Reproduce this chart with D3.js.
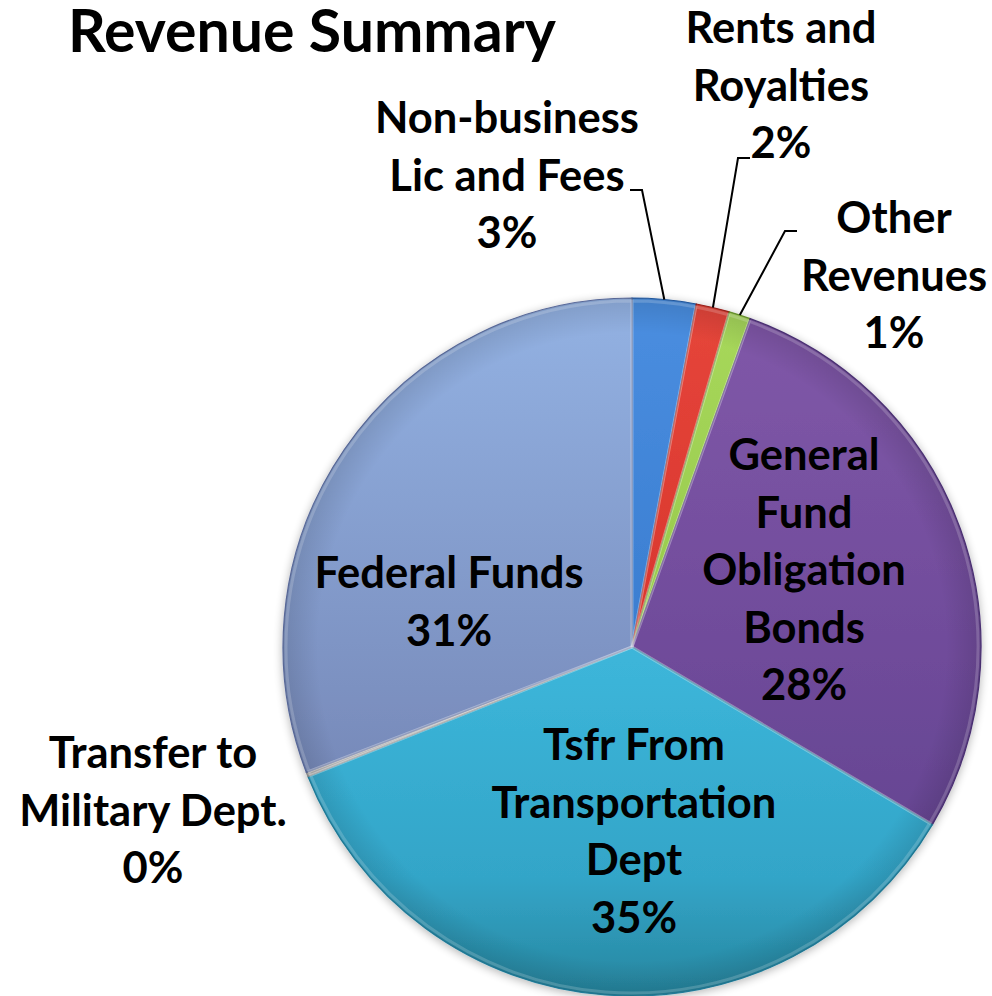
<!DOCTYPE html>
<html><head><meta charset="utf-8">
<script src="https://cdn.jsdelivr.net/npm/d3@7"></script>
<style>body{margin:0;background:#fff}</style>
</head><body>
<svg id="chart" width="992" height="996"></svg>
<script>
// ---- data ----
const categories = ["Non-business Lic and Fees","Rents and Royalties","Other Revenues","General Fund Obligation Bonds","Tsfr From Transportation Dept","Transfer to Military Dept.","Federal Funds"];
const labelLines = [["Non-business","Lic and Fees"],["Rents and","Royalties"],["Other","Revenues"],["General","Fund","Obligation","Bonds"],["Tsfr From","Transportation","Dept"],["Transfer to","Military Dept."],["Federal Funds"]];
const values = [2.95, 1.55, 1.0, 28.0, 35.45, 0.2, 30.85];
const title = "Revenue Summary";

// ---- styles ----
const sliceStops = [
  [[0,"#4a8ee0"],[0.5,"#3a7dd0"],[1,"#2a5ea8"]],
  [[0,"#e6463b"],[0.5,"#d8352d"],[1,"#a82620"]],
  [[0,"#a8d85c"],[0.5,"#96c94a"],[1,"#6f9c34"]],
  [[0,"#8158a9"],[1,"#5e3f8c"]],
  [[0,"#4ec6ea"],[0.55,"#3bb4d8"],[0.83,"#33a5c8"],[1,"#27869f"]],
  [[0,"#d0d0d0"],[1,"#a8a8a8"]],
  [[0,"#93b2e3"],[1,"#6a77a6"]]
];
const edgeColors = ["#245aa0","#9e221c","#6a9530","#4d3377","#23809e","#909090","#5d6d9e"];

// ---- layout ----
const cx = 632, cy = 647, R = 349;
const labelAnchor = [[507,133],[781,43],[894,233],[804,470],[634,760],[153,768],[449,588]];
const lineGap = 57.5;
const leader = [[630,190,642],[750,158,738],[797,231,785],null,null,null,null];

const svg = d3.select("#chart");
const defs = svg.append("defs");
const f = defs.append("filter").attr("id","shadow").attr("x","-10%").attr("y","-10%").attr("width","120%").attr("height","120%");
f.append("feGaussianBlur").attr("in","SourceAlpha").attr("stdDeviation",5).attr("result","b");
f.append("feOffset").attr("in","b").attr("dx",0).attr("dy",2).attr("result","o");
f.append("feComponentTransfer").attr("in","o").attr("result","o2").append("feFuncA").attr("type","linear").attr("slope",0.3);
const fm = f.append("feMerge"); fm.append("feMergeNode").attr("in","o2"); fm.append("feMergeNode").attr("in","SourceGraphic");

sliceStops.forEach((stops,i)=>{
  const g = defs.append("linearGradient").attr("id","g"+i).attr("gradientUnits","userSpaceOnUse")
    .attr("x1",0).attr("y1",-R).attr("x2",0).attr("y2",R);
  stops.forEach(s=>g.append("stop").attr("offset",s[0]).attr("stop-color",s[1]));
});
const rg = defs.append("radialGradient").attr("id","edge").attr("gradientUnits","userSpaceOnUse")
  .attr("cx",0).attr("cy",0).attr("r",R);
rg.append("stop").attr("offset",0.9).attr("stop-color","#000").attr("stop-opacity",0);
rg.append("stop").attr("offset",1).attr("stop-color","#000").attr("stop-opacity",0.12);

const pie = d3.pie().sort(null).value(d=>d);
const arcs = pie(values);
const arc = d3.arc().innerRadius(0).outerRadius(R);
const inner = d3.arc().innerRadius(0).outerRadius(R-3);

const pg = svg.append("g").attr("transform",`translate(${cx},${cy})`).attr("filter","url(#shadow)");
pg.selectAll("path.slice").data(arcs).join("path").attr("class","slice")
  .attr("d",arc).attr("fill",(d,i)=>`url(#g${i})`)
  .attr("stroke",(d,i)=>edgeColors[i]).attr("stroke-width",1.2);
const og = svg.append("g").attr("transform",`translate(${cx},${cy})`);
og.append("circle").attr("r",R).attr("fill","url(#edge)");
// bevel highlight
og.selectAll("path.hl").data(arcs).join("path").attr("class","hl")
  .attr("d",inner).attr("fill","none").attr("stroke","#fff").attr("stroke-opacity",0.18).attr("stroke-width",3);

const total = d3.sum(values);
const pct = v => Math.round(v/total*100) + "%";

// leader lines
arcs.forEach((a,i)=>{
  const L = leader[i]; if(!L) return;
  const ang = (a.startAngle + a.endAngle)/2;
  const px = cx + R*Math.sin(ang), py = cy - R*Math.cos(ang);
  svg.append("polyline").attr("points",`${L[0]},${L[1]} ${L[2]},${L[1]} ${px},${py}`)
    .attr("fill","none").attr("stroke","#000").attr("stroke-width",2);
});

// labels
const font = "Lato, 'Open Sans', sans-serif";
labelLines.forEach((lines,i)=>{
  const [x,y] = labelAnchor[i];
  const all = lines.concat([pct(values[i])]);
  const t = svg.append("text").attr("text-anchor","middle").attr("font-family",font)
    .attr("font-weight",700).attr("font-size",43.5).attr("fill","#000");
  all.forEach((s,k)=>t.append("tspan").attr("x",x).attr("y",y + k*lineGap).text(s));
});

svg.append("text").attr("x",68).attr("y",52).attr("font-family",font).attr("font-weight",700)
  .attr("font-size",59).attr("fill","#000").text(title);
</script>
</body></html>
